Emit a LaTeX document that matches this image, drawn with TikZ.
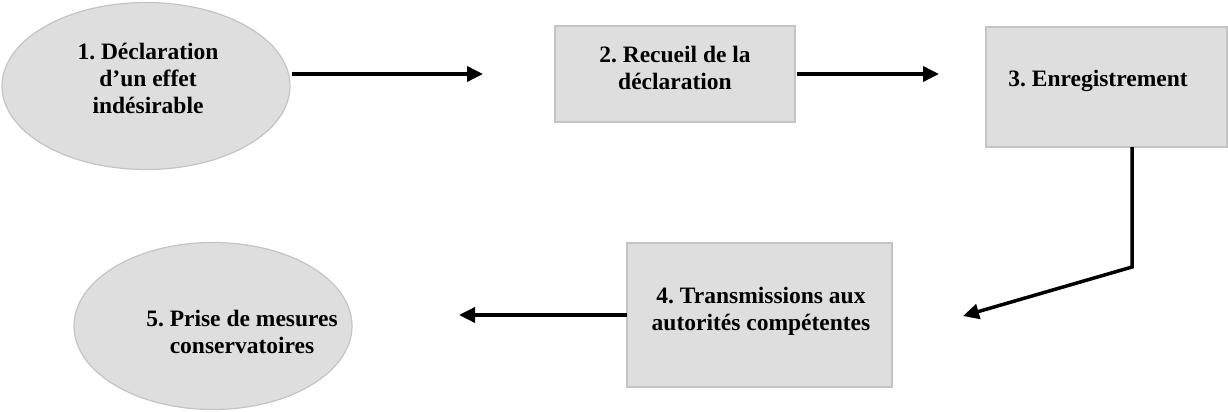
\documentclass[tikz,border=0pt]{standalone}
\usepackage{fontspec}
\setmainfont{Liberation Serif}
\usetikzlibrary{shapes.geometric,arrows.meta}
\definecolor{boxfill}{HTML}{DEDEDE}
\definecolor{boxline}{HTML}{C4C4C4}
\frenchspacing
\begin{document}
\begin{tikzpicture}[x=1pt,y=-1pt,
  oval/.style={ellipse,draw=boxline,fill=boxfill,line width=1.2pt,inner sep=0pt},
  rectbox/.style={rectangle,draw=boxline,fill=boxfill,line width=1.2pt,inner sep=0pt},
  lbl/.style={font=\fontsize{23.5}{27}\selectfont\bfseries,align=center,inner sep=0pt},
  flow/.style={line width=3.5pt,-{Triangle[length=16pt,width=15pt]}}]
\useasboundingbox (0,0) rectangle (1228,412);
% shapes
\node[oval,minimum width=288pt,minimum height=167pt] (e1) at (146,86) {};
\node[rectbox,minimum width=240pt,minimum height=96pt] (b2) at (675,74) {};
\node[rectbox,minimum width=241pt,minimum height=120pt] (b3) at (1106.5,87) {};
\node[rectbox,minimum width=265pt,minimum height=144pt] (b4) at (759.5,315) {};
\node[oval,minimum width=278pt,minimum height=167pt] (e5) at (213,326) {};
% texts
\node[lbl] (t1) at (148,78) {1. Déclaration\\d’un effet\\indésirable};
\node[lbl] (t2) at (675,68) {2. Recueil de la\\déclaration};
\node[lbl] (t3) at (1098,81) {3. Enregistrement};
\node[lbl] (t4) at (761,311) {4. Transmissions aux\\autorités compétentes};
\node[lbl] (t5) at (242,332) {5. Prise de mesures\\conservatoires};
% connector points
\coordinate (a1s) at (292,74);
\coordinate (a1e) at (483,74);
\coordinate (a2s) at (797,74);
\coordinate (a2e) at (939,74);
\coordinate (a3s) at (1132,147);
\coordinate (a3m) at (1132,267);
\coordinate (a3e) at (963,316);
\coordinate (a4s) at (627,315);
\coordinate (a4e) at (459,315);
% connectors
\draw[flow] (a1s) -- (a1e);
\draw[flow] (a2s) -- (a2e);
\draw[flow,line join=miter] (a3s) -- (a3m) -- (a3e);
\draw[flow] (a4s) -- (a4e);
\end{tikzpicture}
\end{document}
